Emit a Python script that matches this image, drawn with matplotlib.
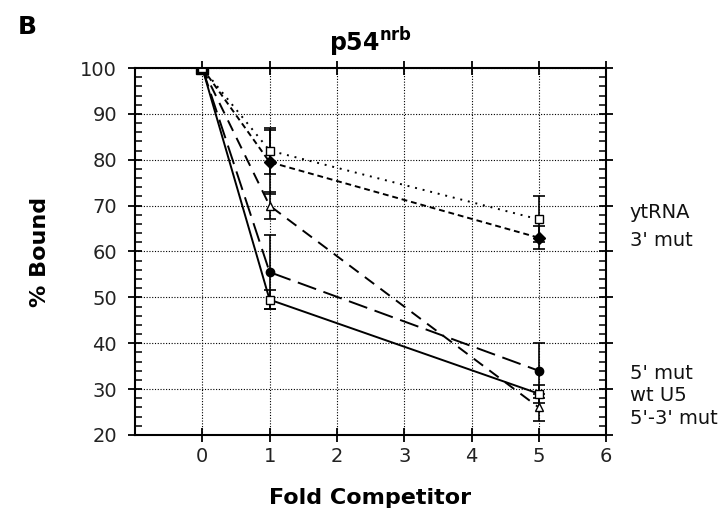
import matplotlib.pyplot as plt
from matplotlib.ticker import MultipleLocator

plt.rcParams['font.family'] = ['DejaVu Sans']

fold = [0, 1, 5]

yt_rna = [100, 82, 67]
yt_rna_err = [0, 5, 5]
mut3 = [100, 79.5, 63]
mut3_err = [0, 7, 2.5]
mut53 = [100, 70, 26]
mut53_err = [0, 3, 3]
mut5 = [100, 55.5, 34]
mut5_err = [0, 8, 6]
wt_u5 = [100, 49.5, 29]
wt_u5_err = [0, 2, 2]

labels_top = ["ytRNA", "3' mut"]
labels_bottom = ["5' mut", "wt U5", "5'-3' mut"]

fig = plt.figure(figsize=(7.27, 5.22), dpi=100)
ax = fig.add_axes([0.1857, 0.1667, 0.648, 0.703])

kw = dict(color='black', lw=1.4, capsize=4.5, elinewidth=1.2, capthick=1.2, ms=6)
ax.errorbar(fold, yt_rna, yerr=yt_rna_err, ls=(0, (1, 3)), marker='s', mfc='white', **kw)
ax.errorbar(fold, mut3, yerr=mut3_err, ls=(0, (3, 2)), marker='D', mfc='black', **kw)
ax.errorbar(fold, mut53, yerr=mut53_err, ls=(0, (6, 4)), marker='^', mfc='white', **kw)
ax.errorbar(fold, mut5, yerr=mut5_err, ls=(0, (10, 4)), marker='o', mfc='black', **kw)
ax.errorbar(fold, wt_u5, yerr=wt_u5_err, ls='-', marker='s', mfc='white', **kw)
ax.plot(fold[1:], wt_u5[1:], ls='none', marker='+', color='black', ms=6)
# all series share the 100% point, drawn as a solid square
ax.plot(fold[0], wt_u5[0], ls='none', marker='s', color='black', ms=8)

ax.set_xlim(-1, 6)
ax.set_ylim(20, 100)
ax.set_xticks(range(0, 7))
ax.yaxis.set_major_locator(MultipleLocator(10))
ax.yaxis.set_minor_locator(MultipleLocator(2))
ax.grid(True, which='major', color='black', ls=(0, (1, 1.5)), lw=0.8)

for s in ax.spines.values():
    s.set_linewidth(1.5)
ax.tick_params(which='major', direction='inout', length=10, width=1.3,
               top=True, right=True, labelsize=14, labelcolor='#222222')
ax.tick_params(axis='y', which='major', pad=8)
ax.tick_params(which='minor', direction='in', length=5, width=1.1, left=True, right=True)
ax.tick_params(axis='x', which='minor', bottom=False, top=False)

ax.set_xlabel('Fold Competitor', fontsize=16, fontweight='bold', labelpad=16)
ax.set_ylabel('% Bound', fontsize=16, fontweight='bold', labelpad=22)
ax.set_title(r'p54$^{\mathbf{nrb}}$', fontsize=17, fontweight='bold', pad=12)
fig.text(0.024, 0.935, 'B', fontsize=18, fontweight='bold')

for i, t in enumerate(labels_top):
    fig.text(0.866, 0.592 - i * 0.052, t, fontsize=14, va='center', color='#111111')
for i, t in enumerate(labels_bottom):
    fig.text(0.866, 0.285 - i * 0.043, t, fontsize=14, va='center', color='#111111')

fig.savefig('out.png', dpi=100)
